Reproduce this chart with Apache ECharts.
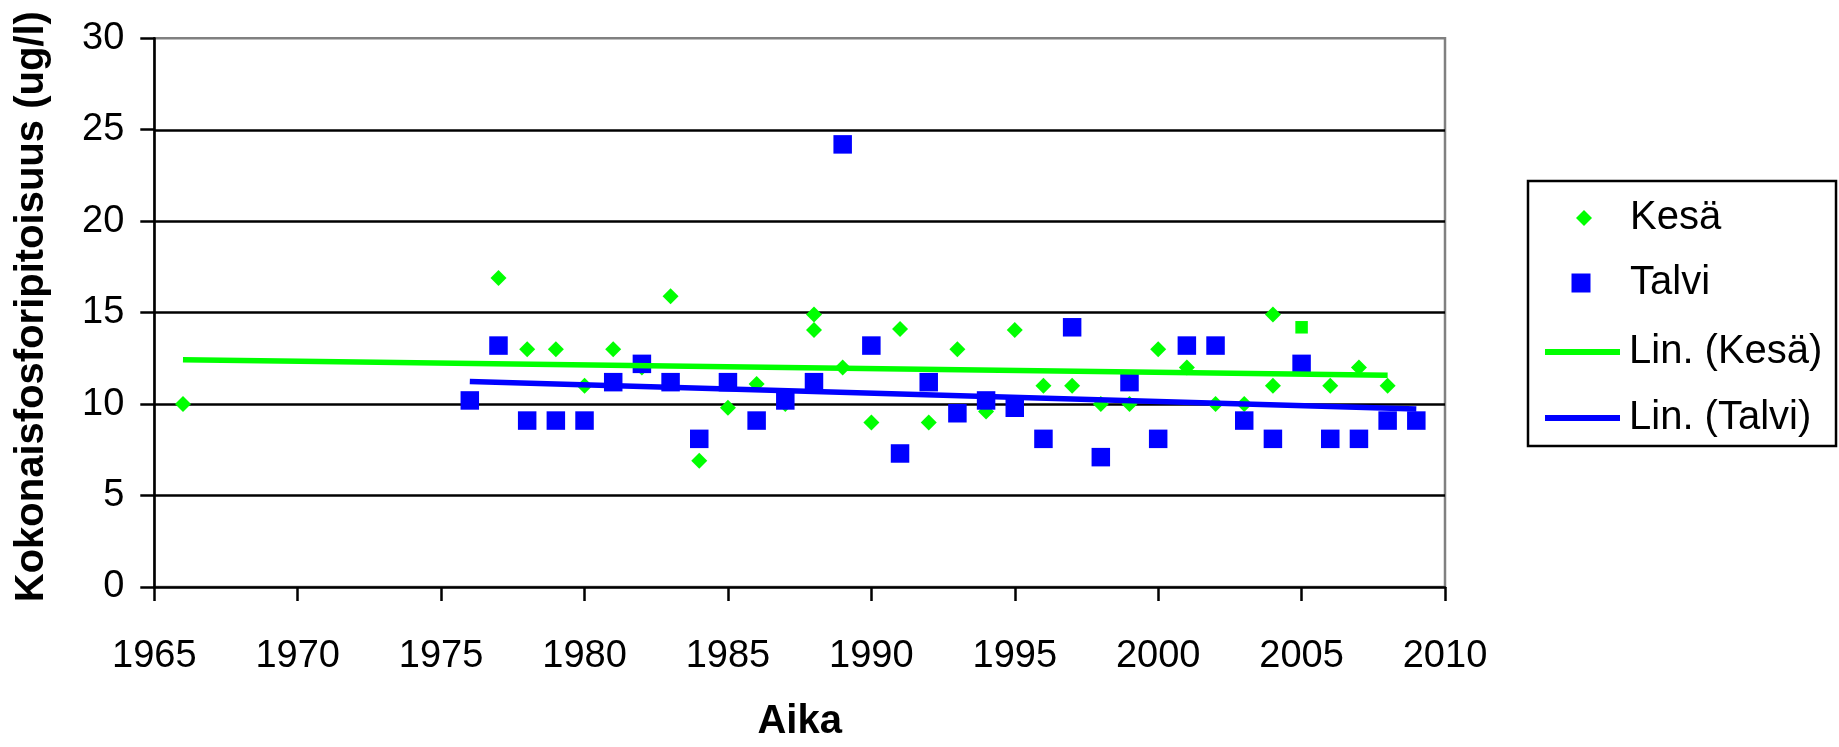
<!DOCTYPE html>
<html>
<head>
<meta charset="utf-8">
<script src="https://cdn.jsdelivr.net/npm/echarts@6/dist/echarts.min.js"></script>
<style>
html,body{margin:0;padding:0;background:#fff;}
#chart{width:1839px;height:747px;}
</style>
</head>
<body>
<div id="chart"></div>
<script>
// ---- data ----
const kesaYears  = [1966, 1977, 1978, 1979, 1980, 1981, 1982, 1983, 1984, 1985, 1986, 1987, 1988, 1988, 1989, 1990, 1991, 1992, 1993, 1994, 1995, 1996, 1997, 1998, 1999, 2000, 2001, 2002, 2003, 2004, 2004, 2005, 2006, 2007, 2008];
const kesaValues = [10.0, 16.9, 13.0, 13.0, 11.0, 13.0, 12.0, 15.9, 6.9, 9.8, 11.1, 10.0, 14.9, 14.05, 12.0, 9.0, 14.1, 9.0, 13.0, 9.6, 14.05, 11.0, 11.0, 10.0, 10.0, 13.0, 12.0, 10.0, 10.0, 14.9, 11.0, 14.2, 11.0, 12.0, 11.0];

const talviYears  = [1976, 1977, 1978, 1979, 1980, 1981, 1982, 1983, 1984, 1985, 1986, 1987, 1988, 1989, 1990, 1991, 1992, 1993, 1994, 1995, 1996, 1997, 1998, 1999, 2000, 2001, 2002, 2003, 2004, 2005, 2006, 2007, 2008, 2009];
const talviValues = [10.2, 13.2, 9.1, 9.1, 9.1, 11.2, 12.2, 11.2, 8.1, 11.2, 9.1, 10.2, 11.2, 24.2, 13.2, 7.3, 11.2, 9.5, 10.2, 9.8, 8.1, 14.2, 7.1, 11.2, 8.1, 13.2, 13.2, 9.1, 8.1, 12.2, 8.1, 8.1, 9.1, 9.1];

// trend line (Lin.) end points
const trendKesaYears  = [1966, 2008];
const trendKesaValues = [12.43, 11.58];
const trendTalviYears  = [1976, 2009];
const trendTalviValues = [11.24, 9.73];

const xTicks = [1965, 1970, 1975, 1980, 1985, 1990, 1995, 2000, 2005, 2010];
const yTicks = [0, 5, 10, 15, 20, 25, 30];

const seriesNames = ['Kesä', 'Talvi', 'Lin. (Kesä)', 'Lin. (Talvi)'];
const xTitle = 'Aika';
const yTitle = 'Kokonaisfosforipitoisuus (ug/l)';

// ---- build ----
const FONT = "'Liberation Sans', Arial, sans-serif";
const GREEN = '#00FF00';
const BLUE = '#0000FF';

function pairs(xs, ys) { return xs.map((x, i) => [x, ys[i]]); }

// the 2005 summer mark is drawn as a small square in the reference
const kesaData = kesaYears.map((x, i) => {
  const item = { value: [x, kesaValues[i]] };
  if (x === 2005) { item.symbol = 'rect'; item.symbolSize = 12.5; }
  return item;
});

const legendText = { fontFamily: FONT, fontSize: 40, color: '#000' };

const chart = echarts.init(document.getElementById('chart'), null, { renderer: 'canvas' });
chart.setOption({
  animation: false,
  backgroundColor: '#ffffff',
  textStyle: { fontFamily: FONT },
  grid: {
    left: 154.3, right: 394, top: 38.3, bottom: 152,
    show: true, borderColor: '#808080', borderWidth: 2.5, backgroundColor: 'transparent'
  },
  xAxis: {
    type: 'value',
    min: xTicks[0], max: xTicks[xTicks.length - 1], interval: xTicks[1] - xTicks[0],
    name: xTitle, nameLocation: 'middle', nameGap: 115,
    nameTextStyle: { fontFamily: FONT, fontSize: 40, fontWeight: 'bold', color: '#000' },
    axisLine: { show: true, onZero: false, lineStyle: { color: '#000', width: 2.5 } },
    axisTick: { show: true, inside: false, length: 14, lineStyle: { color: '#000', width: 2.5 } },
    axisLabel: { margin: 51, fontFamily: FONT, fontSize: 38, color: '#000', formatter: v => String(v) },
    splitLine: { show: false }
  },
  yAxis: {
    type: 'value',
    min: yTicks[0], max: yTicks[yTicks.length - 1], interval: yTicks[1] - yTicks[0],
    name: yTitle, nameLocation: 'middle', nameGap: 102,
    nameTextStyle: { fontFamily: FONT, fontSize: 40, fontWeight: 'bold', color: '#000', padding: [0, 0, 0, 12] },
    axisLine: { show: true, onZero: false, lineStyle: { color: '#000', width: 2.5 } },
    axisTick: { show: true, inside: false, length: 14, lineStyle: { color: '#000', width: 2.5 } },
    axisLabel: { margin: 30, fontFamily: FONT, fontSize: 38, color: '#000', formatter: v => String(v) },
    splitLine: { show: true, showMinLine: false, showMaxLine: false, lineStyle: { color: '#000', width: 2.5 } }
  },
  legend: [
    { // frame + trend line entries
      orient: 'vertical', left: 1528, top: 181,
      padding: [151, 13.6, 8, 17],
      itemWidth: 75, itemHeight: 6, itemGap: 26,
      borderColor: '#000', borderWidth: 2.5, backgroundColor: '#fff',
      selectedMode: false, z: 4,
      textStyle: Object.assign({ padding: [0, 0, 0, 4] }, legendText),
      data: [{ name: seriesNames[2], icon: 'rect' }, { name: seriesNames[3], icon: 'rect' }]
    },
    { // Kesä
      orient: 'vertical', left: 1576, top: 198, padding: 0,
      itemWidth: 16, itemHeight: 16,
      selectedMode: false, z: 6,
      textStyle: Object.assign({ padding: [0, 0, 0, 33] }, legendText),
      data: [{ name: seriesNames[0], icon: 'diamond' }]
    },
    { // Talvi
      orient: 'vertical', left: 1571.5, top: 263, padding: 0,
      itemWidth: 19, itemHeight: 19,
      selectedMode: false, z: 6,
      textStyle: Object.assign({ padding: [0, 0, 0, 34.5] }, legendText),
      data: [{ name: seriesNames[1], icon: 'rect' }]
    }
  ],
  series: [
    {
      name: seriesNames[0], type: 'scatter', symbol: 'diamond', symbolSize: 16,
      itemStyle: { color: GREEN, opacity: 1 }, data: kesaData, z: 2
    },
    {
      name: seriesNames[1], type: 'scatter', symbol: 'rect', symbolSize: 18.5,
      itemStyle: { color: BLUE, opacity: 1 }, data: pairs(talviYears, talviValues), z: 3
    },
    {
      name: seriesNames[2], type: 'line', symbol: 'none',
      lineStyle: { color: GREEN, width: 5.5 }, itemStyle: { color: GREEN },
      data: pairs(trendKesaYears, trendKesaValues), z: 4
    },
    {
      name: seriesNames[3], type: 'line', symbol: 'none',
      lineStyle: { color: BLUE, width: 5.5 }, itemStyle: { color: BLUE },
      data: pairs(trendTalviYears, trendTalviValues), z: 5
    }
  ]
});
</script>
</body>
</html>
